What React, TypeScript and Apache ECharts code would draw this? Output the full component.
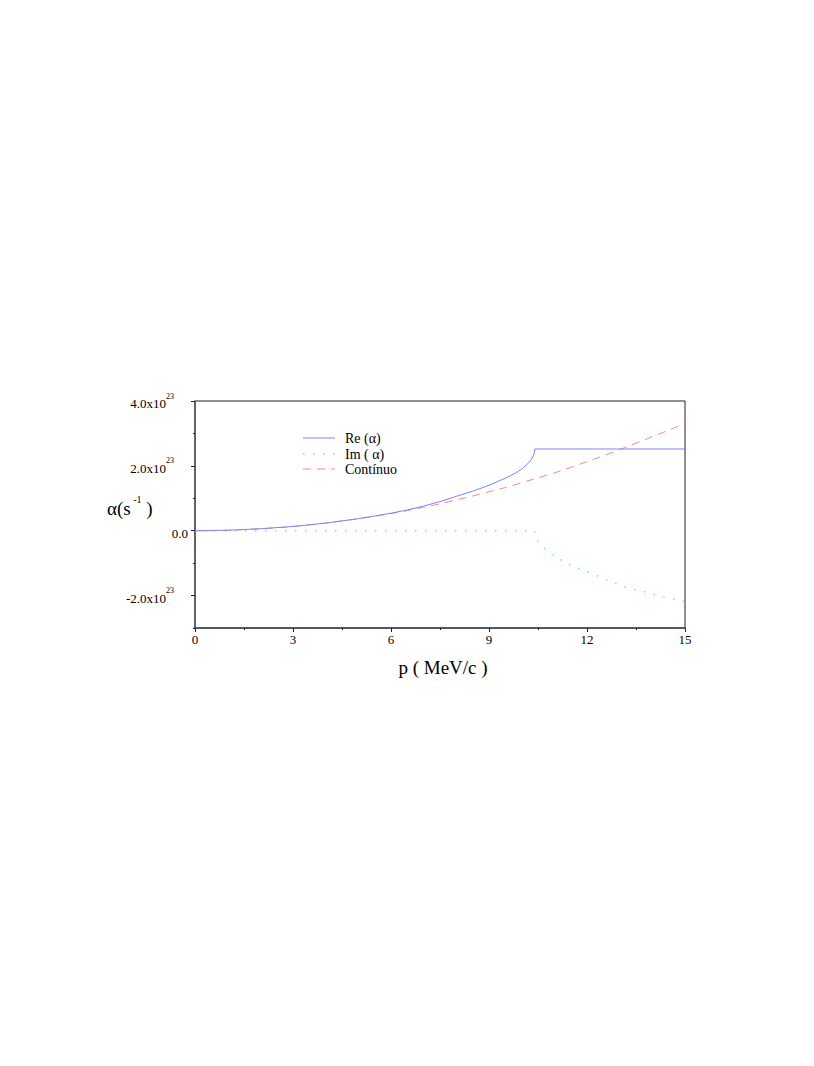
import React, { useEffect, useRef } from "react";
import * as echarts from "echarts";

// values in units of 1e23 s^-1
const reP = [0, 1, 2, 3, 4, 5, 6, 6.5, 7, 7.5, 8, 8.5, 9, 9.5, 9.8, 10, 10.2, 10.3, 10.36, 10.39, 10.4, 15];
const reV = [0, 0.015, 0.06, 0.13, 0.235, 0.37, 0.54, 0.64, 0.76, 0.9, 1.06, 1.22, 1.4, 1.62, 1.77, 1.9, 2.08, 2.2, 2.32, 2.42, 2.52, 2.52];

const imP = [0, 10.4, 10.42, 10.45, 10.64, 10.85, 11.1, 11.6, 12.14, 12.68, 13.23, 13.78, 14.33, 15];
const imV = [0, 0, -0.15, -0.27, -0.49, -0.68, -0.85, -1.11, -1.32, -1.55, -1.76, -1.89, -2.04, -2.18];

const ctP = [0, 0.5, 1, 1.5, 2, 2.5, 3, 3.5, 4, 4.5, 5, 5.5, 6, 6.5, 7, 7.5, 8, 8.5, 9, 9.5, 10, 10.5, 11, 11.5, 12, 12.5, 13, 13.5, 14, 14.5, 15];
const ctV = [0, 0.004, 0.015, 0.033, 0.06, 0.092, 0.13, 0.18, 0.235, 0.3, 0.37, 0.445, 0.53, 0.62, 0.72, 0.83, 0.95, 1.07, 1.2, 1.33, 1.48, 1.63, 1.78, 1.95, 2.13, 2.31, 2.5, 2.7, 2.9, 3.1, 3.32];

const seriesNames = ["Re (\u03b1)", "Im ( \u03b1)", "Cont\u00ednuo"];
const seriesColors = ["#8080ff", "#7cf07c", "#ff8585"];
const seriesDash: (number[] | null)[] = [null, [1.5, 8.5], [8, 6]];
const seriesWidth = [1, 1.5, 1];
const yMajor = [-2, 0, 2, 4];
const yMinor = [-3, -1, 1, 3];

const FONT = "'Liberation Serif', 'Times New Roman', serif";

const zip = (a: number[], b: number[]) => a.map((x, i) => [x, b[i]]);

export default function App() {
  const ref = useRef<HTMLDivElement>(null);
  useEffect(() => {
    if (!ref.current) return;
    const chart = echarts.init(ref.current, undefined, { renderer: "svg" });
    const legendRows = [438, 454, 469];
    const legendGraphics: any[] = [];
    seriesNames.forEach((name, i) => {
      legendGraphics.push({
        type: "line",
        shape: { x1: 303, y1: legendRows[i], x2: 335, y2: legendRows[i] },
        style: {
          stroke: seriesColors[i],
          lineWidth: seriesWidth[i],
          lineDash: seriesDash[i] || undefined,
        },
      });
      legendGraphics.push({
        type: "text",
        x: 345,
        y: legendRows[i],
        style: {
          text: name,
          fontFamily: FONT,
          fontSize: 14,
          fill: "#000",
          align: "left",
          verticalAlign: "middle",
        },
      });
    });
    const mkLine = (i: number, data: number[][]) => ({
      name: seriesNames[i],
      type: "line",
      data,
      symbol: "none",
      smooth: false,
      lineStyle: {
        color: seriesColors[i],
        width: seriesWidth[i],
        type: seriesDash[i] || "solid",
      },
      itemStyle: { color: seriesColors[i] },
      z: i === 0 ? 3 : 2,
    });
    chart.setOption({
      animation: false,
      backgroundColor: "#fff",
      grid: {
        left: 195,
        top: 401,
        width: 490,
        height: 227,
        show: true,
        borderColor: "#222",
        borderWidth: 1,
        backgroundColor: "transparent",
      },
      xAxis: {
        type: "value",
        min: 0,
        max: 15,
        interval: 3,
        axisLine: { show: true, onZero: false, lineStyle: { color: "#444", width: 1.5 } },
        axisTick: { show: true, length: 4, lineStyle: { color: "#222" } },
        minorTick: { show: true, splitNumber: 2, length: 2, lineStyle: { color: "#222" } },
        splitLine: { show: false },
        axisLabel: { fontFamily: FONT, fontSize: 13, color: "#000", margin: 5 },
      },
      yAxis: [
        {
          type: "value",
          min: -3,
          max: 4,
          interval: 1,
          axisLine: { show: true, onZero: false, lineStyle: { color: "#555", width: 1.5 } },
          axisTick: { show: true, length: 4, customValues: yMajor, lineStyle: { color: "#222" } },
          splitLine: { show: false },
          axisLabel: {
            customValues: yMajor,
            margin: 7,
            color: "#000",
            formatter: (v: number) =>
              v === 0 ? "{n|0.0}" : `{n|${v.toFixed(1)}x10}{sup|23}{sp|}`,
            rich: {
              n: { fontFamily: FONT, fontSize: 13, color: "#000", lineHeight: 18, verticalAlign: "bottom" },
              sup: { fontFamily: FONT, fontSize: 8, color: "#000", lineHeight: 8, verticalAlign: "top" },
              sp: { width: 14, lineHeight: 8 },
            },
          },
        },
        {
          type: "value",
          min: -3,
          max: 4,
          interval: 1,
          position: "left",
          axisLine: { show: false, onZero: false },
          axisTick: { show: true, length: 2, customValues: yMinor, lineStyle: { color: "#222" } },
          splitLine: { show: false },
          axisLabel: { show: false },
        },
      ],
      series: [mkLine(0, zip(reP, reV)), mkLine(1, zip(imP, imV)), mkLine(2, zip(ctP, ctV))],
      graphic: [
        ...legendGraphics,
        {
          type: "text",
          left: 107,
          top: 494,
          style: {
            text: "{a|\u03b1(s}{s| -1}{a| )}",
            rich: {
              a: { fontFamily: FONT, fontSize: 19, fill: "#000", lineHeight: 24, verticalAlign: "bottom" },
              s: { fontFamily: FONT, fontSize: 10, fill: "#000", lineHeight: 12, verticalAlign: "top" },
            },
          },
        },
        {
          type: "text",
          x: 443,
          y: 667,
          style: {
            text: "p ( MeV/c )",
            fontFamily: FONT,
            fontSize: 19,
            fill: "#000",
            align: "center",
            verticalAlign: "middle",
          },
        },
      ],
    });
    return () => chart.dispose();
  }, []);
  return (
    <div
      ref={ref}
      style={{ position: "fixed", left: 0, top: 0, width: 814, height: 1066, background: "#fff" }}
    />
  );
}
